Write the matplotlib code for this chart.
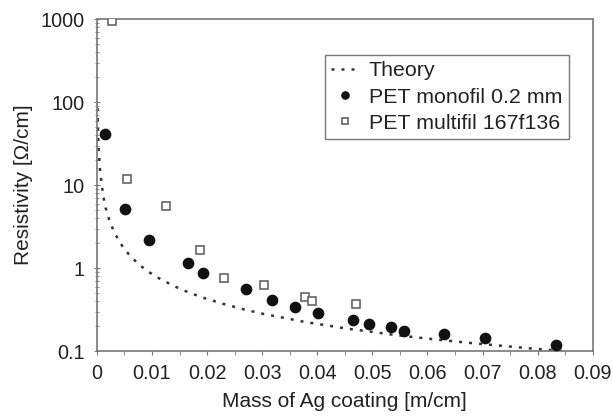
import matplotlib
matplotlib.use("Agg")
import matplotlib.pyplot as plt
from matplotlib.ticker import MultipleLocator, LogLocator, FuncFormatter, NullFormatter

plt.rcParams['font.family'] = ['Liberation Sans', 'DejaVu Sans']

# Theory curve
theory_x = [0.0001, 0.0003, 0.0006, 0.00115, 0.0016, 0.0022, 0.0031, 0.0040, 0.0048,
            0.0061, 0.0077, 0.0091, 0.0107, 0.0124, 0.0142, 0.0159, 0.0175, 0.0193,
            0.0230, 0.0267, 0.0304, 0.0342, 0.0380, 0.0418, 0.0455, 0.0493, 0.0530,
            0.0569, 0.0620, 0.0680, 0.0740, 0.0800, 0.0850]
theory_y = [85, 29, 14.5, 7.4, 5.3, 3.9, 2.75, 2.14, 1.77,
            1.39, 1.10, 0.93, 0.79, 0.69, 0.60, 0.535, 0.486, 0.44,
            0.37, 0.318, 0.279, 0.25, 0.223, 0.204, 0.186, 0.173, 0.16,
            0.149, 0.137, 0.125, 0.115, 0.106, 0.100]

# PET monofil 0.2 mm
mono_x = [0.0015, 0.0051, 0.0095, 0.0165, 0.0193, 0.0271, 0.0318, 0.0360, 0.0402,
          0.0465, 0.0494, 0.0533, 0.0558, 0.0630, 0.0704, 0.0834]
mono_y = [41, 5.1, 2.17, 1.16, 0.88, 0.56, 0.41, 0.336, 0.29,
          0.24, 0.21, 0.193, 0.177, 0.16, 0.145, 0.12]

# PET multifil 167f136
multi_x = [0.0027, 0.0055, 0.0125, 0.0188, 0.0230, 0.0304, 0.0377, 0.0391, 0.0470]
multi_y = [950, 11.7, 5.6, 1.65, 0.77, 0.62, 0.45, 0.40, 0.37]

fig = plt.figure(figsize=(6.13, 4.17), dpi=100)
ax = fig.add_axes([0.158, 0.158, 0.809, 0.796])

ax.plot(theory_x, theory_y, color='#333333', lw=1.8, linestyle=(0, (1.2, 2.8)),
        label='Theory', zorder=2)
ax.plot(mono_x, mono_y, 'o', color='#111111', ms=7.4, mec='#111111',
        label='PET monofil 0.2 mm', zorder=3)
ax.plot(multi_x, multi_y, 's', mfc='white', mec='#666666', mew=1.2, ms=6.4,
        label='PET multifil 167f136', zorder=3)

ax.set_yscale('log')
ax.set_xlim(0, 0.09)
ax.set_ylim(0.1, 1000)
ax.xaxis.set_major_locator(MultipleLocator(0.01))
ax.xaxis.set_minor_locator(MultipleLocator(0.005))
ax.xaxis.set_major_formatter(FuncFormatter(lambda v, p: '0' if abs(v) < 1e-9 else f'{v:.2f}'))
ax.yaxis.set_major_locator(LogLocator(base=10, numticks=10))
ax.yaxis.set_minor_locator(LogLocator(base=10, subs=range(2, 10), numticks=20))
ax.yaxis.set_major_formatter(FuncFormatter(lambda v, p: f'{v:g}'))
ax.yaxis.set_minor_formatter(NullFormatter())

for s in ax.spines.values():
    s.set_color('#777777')
    s.set_linewidth(1.2)

ax.tick_params(axis='x', which='both', direction='out', length=3, color='#777777',
               labelsize=14.3, labelcolor='#222222', pad=6)
ax.tick_params(axis='y', which='major', direction='inout', length=5, color='#777777',
               labelsize=14.3, labelcolor='#222222', pad=6)
ax.tick_params(axis='y', which='minor', direction='inout', length=3, color='#777777')

ax.set_xlabel('Mass of Ag coating [m/cm]', fontsize=15, color='#222222', labelpad=7)
ax.set_ylabel('Resistivity [Ω/cm]', fontsize=15, color='#222222', labelpad=6)

leg = ax.legend(loc='upper left', bbox_to_anchor=(0.46, 0.892), fontsize=15.4,
                frameon=True, fancybox=False, edgecolor='#555555', handlelength=1.3,
                handletextpad=0.45, borderpad=0.3, borderaxespad=0.0,
                labelspacing=0.33, markerscale=0.7)
leg.get_frame().set_linewidth(1.0)
for t in leg.get_texts():
    t.set_color('#222222')

fig.savefig('out.png', dpi=100)
